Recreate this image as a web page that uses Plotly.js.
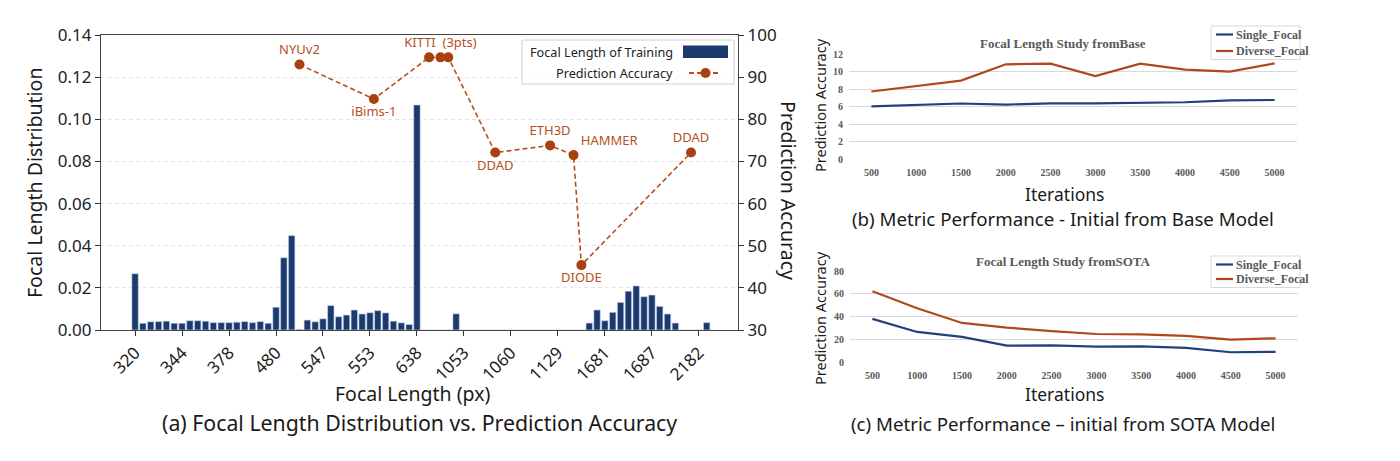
<!DOCTYPE html>
<html>
<head>
<meta charset="utf-8">
<script src="https://cdn.plot.ly/plotly-3.0.1.min.js"></script>
<style>
  html, body { margin: 0; padding: 0; background: #ffffff; }
  #chart { width: 1400px; height: 461px; }
</style>
</head>
<body>
<div id="chart"></div>
<script>
// ---- Panel (a): focal length histogram of the training set ----
const focalTickLabels = ['320', '344', '378', '480', '547', '553', '638', '1053', '1060', '1129', '1681', '1687', '2182'];
const binShare = [
  0.0267, 0.0032, 0.0039, 0.0040, 0.0042, 0.0032, 0.0032, 0.0044, 0.0044, 0.0042,
  0.0035, 0.0035, 0.0035, 0.0037, 0.0040, 0.0035, 0.0040, 0.0032, 0.0108, 0.0343,
  0.0448, 0.0003, 0.0047, 0.0039, 0.0053, 0.0116, 0.0063, 0.0071, 0.0095, 0.0076,
  0.0082, 0.0092, 0.0081, 0.0042, 0.0034, 0.0026, 0.1068, 0, 0, 0,
  0, 0.0077, 0, 0, 0, 0, 0, 0, 0, 0,
  0, 0, 0, 0, 0, 0, 0, 0, 0.0033, 0.0095,
  0.0044, 0.0084, 0.0131, 0.0184, 0.0209, 0.0158, 0.0166, 0.0112, 0.0076, 0.0033,
  0, 0, 0, 0.0035
];
const binsPerTick = 6;

// Evaluation datasets placed along the same focal axis
const evalPos = [21, 30.5, 37.55, 39, 40, 46, 53, 56, 57, 71];
const evalAccuracy = [93.0, 84.8, 94.7, 94.7, 94.7, 72.1, 73.8, 71.5, 45.4, 72.1];
const evalName = ['NYUv2', 'iBims-1', '', 'KITTI  (3pts)', '', 'DDAD', 'ETH3D', 'HAMMER', 'DIODE', 'DDAD'];
const evalLabelSide = ['top center', 'bottom center', 'top center', 'top center', 'top center',
                       'bottom center', 'top center', 'top right', 'bottom center', 'top center'];

// ---- Panels (b) and (c): accuracy over training iterations ----
const iterations = ['500', '1000', '1500', '2000', '2500', '3000', '3500', '4000', '4500', '5000'];
const baseSingle  = [6.05, 6.2, 6.38, 6.25, 6.4, 6.4, 6.48, 6.52, 6.74, 6.78];
const baseDiverse = [7.75, 8.4, 9.0, 10.86, 10.93, 9.52, 10.93, 10.25, 10.02, 10.97];
const sotaSingle  = [38.0, 26.6, 22.2, 14.6, 14.9, 13.7, 14.0, 12.6, 8.8, 9.1];
const sotaDiverse = [62.2, 47.3, 34.5, 30.4, 27.4, 24.8, 24.5, 23.1, 19.9, 21.0];

// ---- styling ----
const W = 1400, H = 461;
const px = x => x / W;
const py = y => 1 - y / H;
const NAVY = '#1c3a6e';
const RUST = '#a9410f';
const RUST_TXT = '#b5501e';
const BLUE_LINE = '#22407c';
const ORANGE_LINE = '#b0481c';
const SANS = 'Noto Sans, Open Sans, sans-serif';
const SERIF = 'Liberation Serif, Times New Roman, serif';
const GREY_TXT = '#595959';
const INK = '#1a1a1a';

const binPos = binShare.map((_, i) => i);
const tickPos = focalTickLabels.map((_, i) => i * binsPerTick);

const traces = [
  {
    type: 'bar', x: binPos, y: binShare, xaxis: 'x', yaxis: 'y',
    width: 0.82, marker: { color: NAVY, line: { color: 'rgba(200,215,235,0.9)', width: 0.7 } },
    showlegend: false, hoverinfo: 'x+y'
  },
  {
    type: 'scatter', mode: 'lines+markers+text', x: evalPos, y: evalAccuracy,
    xaxis: 'x', yaxis: 'y2',
    line: { color: RUST_TXT, width: 1.6, dash: '5px,3px' },
    marker: { color: RUST, size: 10 },
    text: evalName, textposition: evalLabelSide,
    textfont: { family: SANS, size: 13, color: RUST_TXT },
    cliponaxis: false, showlegend: false
  },
  {
    type: 'scatter', mode: 'lines', x: iterations, y: baseSingle, xaxis: 'x3', yaxis: 'y3',
    line: { color: BLUE_LINE, width: 2.2 }, showlegend: false
  },
  {
    type: 'scatter', mode: 'lines', x: iterations, y: baseDiverse, xaxis: 'x3', yaxis: 'y3',
    line: { color: ORANGE_LINE, width: 2.2 }, showlegend: false
  },
  {
    type: 'scatter', mode: 'lines', x: iterations, y: sotaSingle, xaxis: 'x4', yaxis: 'y4',
    line: { color: BLUE_LINE, width: 2.2 }, showlegend: false
  },
  {
    type: 'scatter', mode: 'lines', x: iterations, y: sotaDiverse, xaxis: 'x4', yaxis: 'y4',
    line: { color: ORANGE_LINE, width: 2.2 }, showlegend: false
  }
];

const sansTick = { family: SANS, size: 17, color: '#222222' };
const serifTick = { family: SERIF, size: 10, color: GREY_TXT, weight: 'bold' };

const excelX = (dom, anchor) => ({
  domain: dom, anchor: anchor, type: 'category', range: [-0.5, 9.5],
  showline: false, showgrid: false, zeroline: false, ticks: '',
  tickfont: serifTick, ticklabelstandoff: 6, fixedrange: true
});
const excelY = (dom, anchor, top, step) => ({
  domain: dom, anchor: anchor, range: [0, top], dtick: step,
  showline: false, showgrid: true, gridcolor: '#d9d9d9', gridwidth: 1, zeroline: false,
  ticks: '', tickfont: serifTick, ticklabelstandoff: 5, fixedrange: true
});

const annotations = [];
const shapes = [];
const note = (text, x, y, font, extra) => annotations.push(Object.assign({
  text: text, x: px(x), y: py(y), xref: 'paper', yref: 'paper', showarrow: false,
  xanchor: 'center', yanchor: 'middle', font: font
}, extra || {}));
const box = (x0, y0, x1, y1, style) => shapes.push(Object.assign({
  type: 'rect', xref: 'paper', yref: 'paper', x0: px(x0), x1: px(x1), y0: py(y0), y1: py(y1)
}, style));
const seg = (x0, y0, x1, y1, line) => shapes.push({
  type: 'line', xref: 'paper', yref: 'paper', x0: px(x0), x1: px(x1), y0: py(y0), y1: py(y1), line: line
});

// panel (a) texts
note('Focal Length Distribution', 34, 183, { family: SANS, size: 19.5, color: INK }, { textangle: -90 });
note('Prediction Accuracy', 789, 190, { family: SANS, size: 19.5, color: INK }, { textangle: 90 });
note('Focal Length (px)', 413, 393, { family: SANS, size: 19.5, color: INK });
note('(a) Focal Length Distribution vs. Prediction Accuracy', 419, 422, { family: SANS, size: 21.3, color: INK });

// panel (a) legend
box(522, 40, 734, 84, { line: { color: '#d0d0d0', width: 1 }, fillcolor: 'rgba(255,255,255,0.85)', layer: 'above' });
note('Focal Length of Training', 675, 52, { family: SANS, size: 12.7, color: '#222222' }, { xanchor: 'right' });
box(683, 45.5, 728, 58, { line: { width: 0 }, fillcolor: NAVY, layer: 'above' });
note('Prediction Accuracy', 675, 73, { family: SANS, size: 12.7, color: '#222222' }, { xanchor: 'right' });
seg(689, 73, 721, 73, { color: RUST_TXT, width: 1.8, dash: '5px,3px' });
shapes.push({ type: 'circle', xref: 'paper', yref: 'paper', x0: px(700.5), x1: px(710.5), y0: py(78), y1: py(68),
  fillcolor: RUST, line: { width: 0 }, layer: 'above' });

// panels (b) and (c) texts and legends
const panelText = (top, title, caption, yTitleY, iterY, captionY, legTop, legGap) => {
  note(title, 1063, top, { family: SERIF, size: 13, color: GREY_TXT, weight: 'bold' });
  note('Prediction Accuracy', 820, yTitleY, { family: SANS, size: 14.5, color: INK }, { textangle: -90 });
  note('Iterations', 1064, iterY, { family: SANS, size: 17.5, color: INK });
  note(caption, 1063, captionY, { family: SANS, size: 18.7, color: INK });
  box(1211, legTop, 1300, legTop + legGap + 17, { line: { color: '#d9d9d9', width: 1 }, fillcolor: 'rgba(0,0,0,0)' });
  const r1 = legTop + 8.5, r2 = r1 + legGap;
  seg(1216, r1, 1233, r1, { color: BLUE_LINE, width: 2.2 });
  seg(1216, r2, 1233, r2, { color: ORANGE_LINE, width: 2.2 });
  note('Single_Focal', 1234, r1, { family: SERIF, size: 12, color: GREY_TXT, weight: 'bold' }, { xanchor: 'left' });
  note('Diverse_Focal', 1234, r2, { family: SERIF, size: 12, color: GREY_TXT, weight: 'bold' }, { xanchor: 'left' });
};
panelText(43, 'Focal Length Study fromBase', '(b) Metric Performance - Initial from Base Model', 105, 194, 218, 26, 16.5);
panelText(261, 'Focal Length Study fromSOTA', '(c) Metric Performance \u2013 initial from SOTA Model', 318, 394, 423, 256, 14.5);

const layout = {
  width: W, height: H,
  margin: { l: 0, r: 0, t: 0, b: 0 },
  paper_bgcolor: '#ffffff', plot_bgcolor: 'rgba(0,0,0,0)',
  showlegend: false,
  bargap: 0,
  xaxis: {
    domain: [px(101), px(738)], anchor: 'y', range: [-4.35, 77.0],
    tickmode: 'array', tickvals: tickPos, ticktext: focalTickLabels, tickangle: -45,
    ticks: 'outside', ticklen: 5, tickwidth: 1, tickcolor: '#333333',
    showline: true, linecolor: '#444444', linewidth: 1.2, mirror: true,
    showgrid: false, zeroline: false, tickfont: sansTick, fixedrange: true
  },
  yaxis: {
    domain: [py(330), py(35)], anchor: 'x', range: [0, 0.14], dtick: 0.02, tickformat: '.2f',
    ticks: 'outside', ticklen: 5, tickwidth: 1, tickcolor: '#333333',
    showline: true, linecolor: '#444444', linewidth: 1.2, mirror: true,
    showgrid: true, gridcolor: '#e4e4e4', griddash: '4px,3px', gridwidth: 1,
    zeroline: false, tickfont: sansTick, fixedrange: true
  },
  yaxis2: {
    overlaying: 'y', side: 'right', anchor: 'x', range: [30, 100], dtick: 10,
    ticks: 'outside', ticklen: 5, tickwidth: 1, tickcolor: '#333333',
    showline: true, linecolor: '#444444', linewidth: 1.2,
    showgrid: false, zeroline: false, tickfont: sansTick, fixedrange: true
  },
  xaxis3: excelX([px(849), px(1297)], 'y3'),
  yaxis3: excelY([py(159.3), py(54.3)], 'x3', 12, 2),
  xaxis4: excelX([px(850), px(1298)], 'y4'),
  yaxis4: excelY([py(362.3), py(271)], 'x4', 80, 20),
  annotations: annotations,
  shapes: shapes
};

Plotly.newPlot('chart', traces, layout, { displayModeBar: false, staticPlot: true });
</script>
</body>
</html>
